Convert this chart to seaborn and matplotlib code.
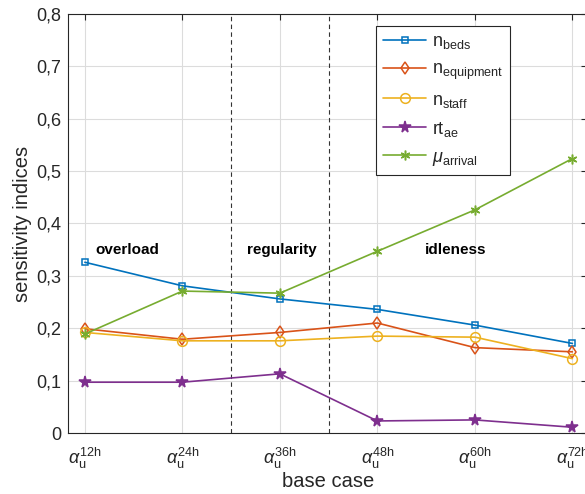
import numpy as np
import pandas as pd
import matplotlib
matplotlib.use("Agg")
import matplotlib.pyplot as plt
import seaborn as sns

# ---- data ----
cases = ["12h", "24h", "36h", "48h", "60h", "72h"]
n_beds = [0.326, 0.281, 0.256, 0.236, 0.206, 0.171]
n_equipment = [0.199, 0.179, 0.192, 0.210, 0.163, 0.155]
n_staff = [0.192, 0.176, 0.176, 0.185, 0.183, 0.142]
rt_ae = [0.097, 0.097, 0.113, 0.023, 0.025, 0.011]
mu_arrival = [0.189, 0.271, 0.267, 0.347, 0.426, 0.524]
series_labels = [r"n$_{\mathrm{beds}}$", r"n$_{\mathrm{equipment}}$", r"n$_{\mathrm{staff}}$",
                 r"rt$_{\mathrm{ae}}$", r"$\mu_{\mathrm{arrival}}$"]
region_labels = ["overload", "regularity", "idleness"]
region_x = [1.44, 3.02, 4.80]
region_y = [0.35, 0.35, 0.35]
separators = [2.5, 3.5]
yticks = [0, 0.1, 0.2, 0.3, 0.4, 0.5, 0.6, 0.7, 0.8]

sns.set_style("white")
plt.rcParams["font.family"] = ["Liberation Sans", "DejaVu Sans"]
plt.rcParams["mathtext.fontset"] = "custom"
plt.rcParams["mathtext.rm"] = "Liberation Sans"
plt.rcParams["mathtext.it"] = "Liberation Sans:italic"
plt.rcParams["mathtext.bf"] = "Liberation Sans:bold"

colors = ["#0072BD", "#D95319", "#EDB120", "#7E2F8E", "#77AC30"]
markers = ["s", "d", "o", "*", (6, 2, 0)]
msizes = [5, 6, 7, 8.5, 7]

x = np.arange(1, len(cases) + 1)
values = [n_beds, n_equipment, n_staff, rt_ae, mu_arrival]
df = pd.DataFrame({
    "x": np.tile(x, len(values)),
    "value": np.concatenate(values),
    "series": np.repeat(series_labels, len(x)),
})

fig = plt.figure(figsize=(5.85, 4.94), dpi=100)
ax = fig.add_axes([68.3 / 585, (494 - 433) / 494, 518.7 / 585, 419 / 494])

for i, lab in enumerate(series_labels):
    sub = df[df["series"] == lab]
    filled = markers[i] == "*"
    sns.lineplot(data=sub, x="x", y="value", ax=ax, color=colors[i], marker=markers[i],
                 markersize=msizes[i], linewidth=1.2, label=lab,
                 markerfacecolor=colors[i] if filled or i == 4 else "none",
                 markeredgecolor=colors[i], markeredgewidth=1.1, zorder=3)

for s in separators:
    ax.axvline(s, color="#333333", linestyle=(0, (4, 3)), linewidth=0.8, zorder=2)

for t, xx, yy in zip(region_labels, region_x, region_y):
    ax.text(xx, yy, t, ha="center", va="center", fontsize=11, fontweight="bold", color="black")

ax.set_xlim(0.83, 6.15)
ax.set_ylim(0, 0.8)
ax.set_xticks(x)
ax.set_xticklabels([r"$\alpha_{\mathrm{u}}^{\mathrm{%s}}$" % c for c in cases], fontsize=13)
ax.set_yticks(yticks)
ax.set_yticklabels([("%.1f" % v).replace(".", ",") if v != 0 else "0" for v in yticks], fontsize=13)
ax.set_xlabel("base case", fontsize=14.5, labelpad=1)
ax.set_ylabel("sensitivity indices", fontsize=14.5, labelpad=3)
ax.grid(True, color="#dcdcdc", linewidth=0.8, zorder=0)
ax.set_axisbelow(True)
ax.tick_params(direction="in", length=4, width=0.8, top=True, right=True, colors="#262626",
               labelcolor="#262626")
ax.tick_params(axis="x", pad=9)
ax.tick_params(axis="y", pad=5)
for sp in ax.spines.values():
    sp.set_color("#262626")
    sp.set_linewidth(0.8)

leg = ax.legend(loc="upper left", bbox_to_anchor=(0.593, 0.972), fontsize=13, frameon=True,
                fancybox=False, edgecolor="#262626", framealpha=1, handlelength=2.4,
                labelspacing=0.55, borderpad=0.4, handletextpad=0.3, borderaxespad=0)
leg.get_frame().set_linewidth(0.8)

fig.savefig("out.png", dpi=100)
